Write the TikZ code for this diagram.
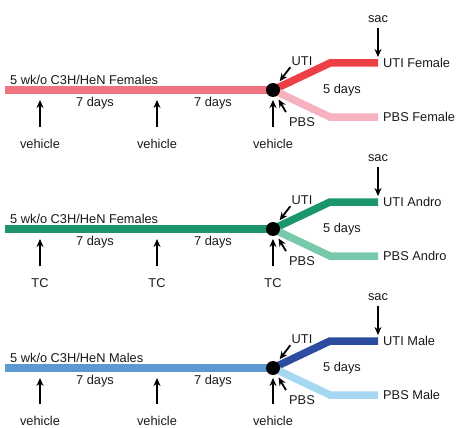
\documentclass[tikz,border=0pt]{standalone}
\usepackage{fontspec}
\setmainfont{Liberation Sans}
\usetikzlibrary{positioning,arrows.meta}
\definecolor{cFemMain}{RGB}{238,117,128}
\definecolor{cFemUti}{RGB}{236,64,70}
\definecolor{cFemPbs}{RGB}{246,178,190}
\definecolor{cAndMain}{RGB}{26,150,106}
\definecolor{cAndUti}{RGB}{26,150,106}
\definecolor{cAndPbs}{RGB}{120,201,170}
\definecolor{cMalMain}{RGB}{92,152,210}
\definecolor{cMalUti}{RGB}{44,76,160}
\definecolor{cMalPbs}{RGB}{166,216,242}

\begin{document}
\begin{tikzpicture}[x=1pt,y=-1pt,font=\fontsize{12.8}{15}\selectfont]
\tikzset{arm/.style={line width=7.5pt},
  lbl/.style={inner sep=0pt,text=black!90},
  arr/.style={-{Stealth[length=8pt,width=7pt]},line width=1.8pt},
  jdot/.style={circle,fill=black,inner sep=0pt,minimum size=14pt}}
\useasboundingbox (0,0) rectangle (458,428);

% females, vehicle
\coordinate (s1) at (5,90);   \coordinate (j1) at (273,90);
\coordinate (ub1) at (330,63);  \coordinate (ue1) at (378,63);
\coordinate (lb1) at (330,117); \coordinate (le1) at (378,117);
\draw[arm,cFemMain] (s1) -- (j1);
\draw[arm,cFemUti] (j1) -- (ub1) -- (ue1);
\draw[arm,cFemPbs] (j1) -- (lb1) -- (le1);
\node[jdot] (d1) at (j1) {};
\node[lbl,anchor=west] (t1) at (10,80) {5 wk/o C3H/HeN Females};
\node[lbl] (w1a) at (95,103) {7 days};
\node[lbl] (w1b) at (213,103) {7 days};
\node[lbl] (f1) at (342,90) {5 days};
\node[lbl] (u1) at (302,61) {UTI};
\node[lbl] (p1) at (302,122) {PBS};
\node[lbl] (sac1) at (378,19) {sac};
\node[lbl,anchor=west] (gu1) at (383,63) {UTI Female};
\node[lbl,anchor=west] (gp1) at (383,117) {PBS Female};
\node[lbl] (v1a) at (40,144) {vehicle};
\node[lbl] (v1b) at (157,144) {vehicle};
\node[lbl] (v1c) at (273,144) {vehicle};
\draw[arr,shorten <=12pt,shorten >=10pt] (v1a) -- (v1a |- j1);
\draw[arr,shorten <=12pt,shorten >=10pt] (v1b) -- (v1b |- j1);
\draw[arr,shorten <=12pt,shorten >=10pt] (v1c) -- (j1);
\draw[arr,shorten <=5pt,shorten >=6pt] (sac1) -- (ue1);
\draw[arr,shorten <=2pt,shorten >=11pt] (u1.south west) -- (j1);
\draw[arr,shorten <=6pt,shorten >=11pt] (p1.north west) -- (j1);

% females, TC (andro)
\coordinate (s2) at (5,229);   \coordinate (j2) at (273,229);
\coordinate (ub2) at (330,202);  \coordinate (ue2) at (378,202);
\coordinate (lb2) at (330,256); \coordinate (le2) at (378,256);
\draw[arm,cAndMain] (s2) -- (j2);
\draw[arm,cAndUti] (j2) -- (ub2) -- (ue2);
\draw[arm,cAndPbs] (j2) -- (lb2) -- (le2);
\node[jdot] (d2) at (j2) {};
\node[lbl,anchor=west] (t2) at (10,219) {5 wk/o C3H/HeN Females};
\node[lbl] (w2a) at (95,242) {7 days};
\node[lbl] (w2b) at (213,242) {7 days};
\node[lbl] (f2) at (342,229) {5 days};
\node[lbl] (u2) at (302,200) {UTI};
\node[lbl] (p2) at (302,261) {PBS};
\node[lbl] (sac2) at (378,158) {sac};
\node[lbl,anchor=west] (gu2) at (383,202) {UTI Andro};
\node[lbl,anchor=west] (gp2) at (383,256) {PBS Andro};
\node[lbl] (v2a) at (40,283) {TC};
\node[lbl] (v2b) at (157,283) {TC};
\node[lbl] (v2c) at (273,283) {TC};
\draw[arr,shorten <=12pt,shorten >=10pt] (v2a) -- (v2a |- j2);
\draw[arr,shorten <=12pt,shorten >=10pt] (v2b) -- (v2b |- j2);
\draw[arr,shorten <=12pt,shorten >=10pt] (v2c) -- (j2);
\draw[arr,shorten <=5pt,shorten >=6pt] (sac2) -- (ue2);
\draw[arr,shorten <=2pt,shorten >=11pt] (u2.south west) -- (j2);
\draw[arr,shorten <=6pt,shorten >=11pt] (p2.north west) -- (j2);

% males, vehicle
\coordinate (s3) at (5,368);   \coordinate (j3) at (273,368);
\coordinate (ub3) at (330,341);  \coordinate (ue3) at (378,341);
\coordinate (lb3) at (330,395); \coordinate (le3) at (378,395);
\draw[arm,cMalMain] (s3) -- (j3);
\draw[arm,cMalUti] (j3) -- (ub3) -- (ue3);
\draw[arm,cMalPbs] (j3) -- (lb3) -- (le3);
\node[jdot] (d3) at (j3) {};
\node[lbl,anchor=west] (t3) at (10,358) {5 wk/o C3H/HeN Males};
\node[lbl] (w3a) at (95,381) {7 days};
\node[lbl] (w3b) at (213,381) {7 days};
\node[lbl] (f3) at (342,368) {5 days};
\node[lbl] (u3) at (302,339) {UTI};
\node[lbl] (p3) at (302,400) {PBS};
\node[lbl] (sac3) at (378,297) {sac};
\node[lbl,anchor=west] (gu3) at (383,341) {UTI Male};
\node[lbl,anchor=west] (gp3) at (383,395) {PBS Male};
\node[lbl] (v3a) at (40,421) {vehicle};
\node[lbl] (v3b) at (157,421) {vehicle};
\node[lbl] (v3c) at (273,421) {vehicle};
\draw[arr,shorten <=12pt,shorten >=10pt] (v3a) -- (v3a |- j3);
\draw[arr,shorten <=12pt,shorten >=10pt] (v3b) -- (v3b |- j3);
\draw[arr,shorten <=12pt,shorten >=10pt] (v3c) -- (j3);
\draw[arr,shorten <=5pt,shorten >=6pt] (sac3) -- (ue3);
\draw[arr,shorten <=2pt,shorten >=11pt] (u3.south west) -- (j3);
\draw[arr,shorten <=6pt,shorten >=11pt] (p3.north west) -- (j3);
\end{tikzpicture}
\end{document}
